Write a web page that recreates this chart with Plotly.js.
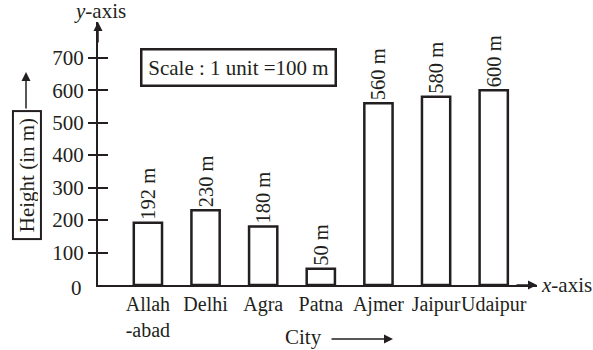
<!DOCTYPE html>
<html><head><meta charset="utf-8">
<script src="https://cdn.plot.ly/plotly-3.0.1.min.js"></script>
<style>html,body{margin:0;padding:0;background:#fff}#chart{width:593px;height:350px}</style>
</head><body><div id="chart"></div>
<script>
const cities = ["Allah<br>-abad", "Delhi", "Agra", "Patna", "Ajmer", "Jaipur", "Udaipur"];
const heights = [192, 230, 180, 50, 560, 580, 600];
const yTicks = [100, 200, 300, 400, 500, 600, 700];

const ink = "#231f20";
const FONT = "Liberation Serif, Times New Roman, serif";

const trace = {
  type: "bar", x: cities, y: heights, width: 0.49,
  marker: {color: "#ffffff", line: {color: ink, width: 2.5}},
  texttemplate: "%{y} m", textposition: "outside", textangle: -90,
  constraintext: "none", cliponaxis: false,
  textfont: {family: FONT, size: 20.5, color: ink},
  hoverinfo: "skip"
};
// empty helper trace so the overlay axis (right-hand half of the crossing ticks) is drawn
const tickHelper = {type: "scatter", x: [], y: [], yaxis: "y2", hoverinfo: "skip", showlegend: false};

const axFont = {family: FONT, size: 21, color: ink};
const A = {xref: "paper", yref: "paper", xanchor: "center", yanchor: "middle", showarrow: false, font: axFont};
const arrow = (x, y, ax, ay) => ({xref: "paper", yref: "paper", x, y, ax, ay, text: "", showarrow: true,
  arrowhead: 2, arrowsize: 1.2, arrowwidth: 1.5, arrowcolor: ink, standoff: 0});

const layout = {
  width: 593, height: 350,
  margin: {l: 98, r: 56, t: 22, b: 65},
  paper_bgcolor: "#fff", plot_bgcolor: "rgba(0,0,0,0)",
  showlegend: false,
  font: axFont,
  xaxis: {type: "category", range: [-0.866, 6.751], showline: true, linecolor: ink, linewidth: 2,
          ticks: "", tickangle: 0, showgrid: false, zeroline: false,
          tickfont: {family: FONT, size: 20, color: ink}, fixedrange: true},
  yaxis: {range: [0, 810], showline: true, linecolor: ink, linewidth: 2, showgrid: false, zeroline: false,
          tickvals: yTicks, ticks: "outside", ticklen: 8, tickwidth: 2, tickcolor: ink,
          tickfont: axFont, fixedrange: true},
  yaxis2: {overlaying: "y", side: "left", anchor: "x", range: [0, 810], showline: false, showgrid: false,
           zeroline: false, tickvals: yTicks, ticks: "inside", ticklen: 10, tickwidth: 2, tickcolor: ink,
           showticklabels: false, fixedrange: true},
  annotations: [
    arrow(0, 1, 0, 22),
    arrow(1, 0, -22, 0),
    Object.assign({}, A, {x: 0.0046, y: 1.042, text: "<i>y</i>-axis"}),
    Object.assign({}, A, {x: 1.0, y: 0, xanchor: "left", xshift: 2, text: "<i>x</i>-axis"}),
    Object.assign({}, A, {x: 0, y: 0, xanchor: "right", xshift: -14, yshift: -3, text: "0"}),
    Object.assign({}, A, {x: 0.320, y: 0.827, text: "Scale : 1 unit =100 m",
      bordercolor: ink, borderwidth: 2.5, borderpad: 3, width: 186, height: 28}),
    Object.assign({}, A, {x: -0.1617, y: 0.418, text: "Height (in m)", textangle: -90,
      bordercolor: ink, borderwidth: 2, borderpad: 2, width: 122, height: 22}),
    arrow(-0.164, 0.810, 0, 38),
    Object.assign({}, A, {x: 0.469, y: -0.198, text: "City"}),
    arrow(0.672, -0.205, -63, 0)
  ]
};

Plotly.newPlot("chart", [trace, tickHelper], layout, {displayModeBar: false, staticPlot: true});
</script>
</body></html>
